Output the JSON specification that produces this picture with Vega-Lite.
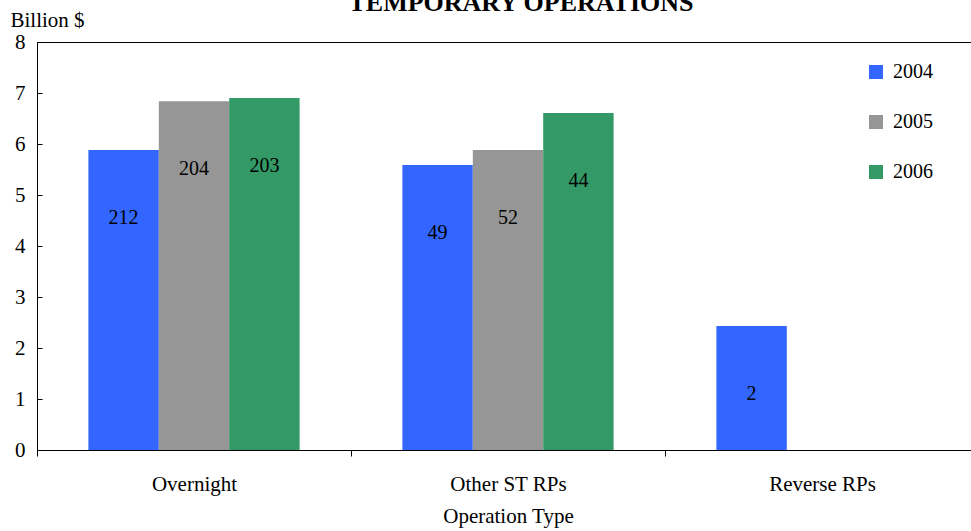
{
  "$schema": "https://vega.github.io/schema/vega-lite/v6.json",
  "autosize": {"type": "none"},
  "padding": {"left": 37, "top": 42, "right": 0, "bottom": 81},
  "width": 942,
  "height": 408,
  "background": "white",
  "title": {
    "text": "TEMPORARY OPERATIONS",
    "font": "Liberation Serif, DejaVu Serif, serif",
    "fontSize": 26,
    "fontWeight": "bold",
    "color": "black",
    "anchor": "middle",
    "dx": 13,
    "offset": -7
  },
  "config": {
    "font": "Liberation Serif, DejaVu Serif, serif",
    "view": {"stroke": "black", "strokeWidth": 1},
    "axis": {
      "labelFont": "Liberation Serif, DejaVu Serif, serif",
      "titleFont": "Liberation Serif, DejaVu Serif, serif",
      "labelFontSize": 21,
      "titleFontSize": 21,
      "labelColor": "black",
      "titleColor": "black",
      "titleFontWeight": "normal",
      "domainColor": "black",
      "tickColor": "black",
      "grid": false
    }
  },
  "data": {
    "values": [
      {"type": "Overnight", "year": "2004", "value": 5.88, "count": 212},
      {"type": "Overnight", "year": "2005", "value": 6.84, "count": 204},
      {"type": "Overnight", "year": "2006", "value": 6.9, "count": 203},
      {"type": "Other ST RPs", "year": "2004", "value": 5.59, "count": 49},
      {"type": "Other ST RPs", "year": "2005", "value": 5.88, "count": 52},
      {"type": "Other ST RPs", "year": "2006", "value": 6.61, "count": 44},
      {"type": "Reverse RPs", "year": "2004", "value": 2.43, "count": 2}
    ]
  },
  "encoding": {
    "x": {
      "field": "type",
      "type": "nominal",
      "sort": ["Overnight", "Other ST RPs", "Reverse RPs"],
      "scale": {"paddingInner": 0, "paddingOuter": 0},
      "axis": {
        "title": "Operation Type",
        "labelAngle": 0,
        "tickBand": "extent",
        "tickSize": 6,
        "labelPadding": 17,
        "titlePadding": 11
      }
    },
    "xOffset": {
      "field": "year",
      "type": "nominal",
      "scale": {"domain": ["2004", "2005", "2006"], "paddingInner": 0, "paddingOuter": 0.73}
    },
    "y": {
      "field": "value",
      "type": "quantitative",
      "scale": {"domain": [0, 8], "nice": false},
      "axis": {
        "title": "Billion $",
        "titleAngle": 0,
        "titleAlign": "left",
        "titleBaseline": "middle",
        "titleX": -27,
        "titleY": -22,
        "values": [0, 1, 2, 3, 4, 5, 6, 7, 8],
        "tickSize": -5,
        "labelPadding": 17,
        "labelBaseline": "middle"
      }
    }
  },
  "layer": [
    {
      "mark": {"type": "bar"},
      "encoding": {
        "color": {
          "field": "year",
          "type": "nominal",
          "scale": {"domain": ["2004", "2005", "2006"], "range": ["#3366FF", "#969696", "#339966"]},
          "legend": {
            "title": null,
            "orient": "none",
            "legendX": 829,
            "legendY": 20,
            "symbolType": "square",
            "symbolSize": 196,
            "symbolStrokeWidth": 0,
            "labelFont": "Liberation Serif, DejaVu Serif, serif",
            "labelFontSize": 20,
            "labelColor": "black",
            "labelOffset": 7,
            "rowPadding": 30
          }
        }
      }
    },
    {
      "mark": {"type": "text", "fontSize": 20, "font": "Liberation Serif, DejaVu Serif, serif", "color": "black", "baseline": "middle", "dy": 68},
      "encoding": {
        "text": {"field": "count", "type": "quantitative"}
      }
    }
  ]
}
